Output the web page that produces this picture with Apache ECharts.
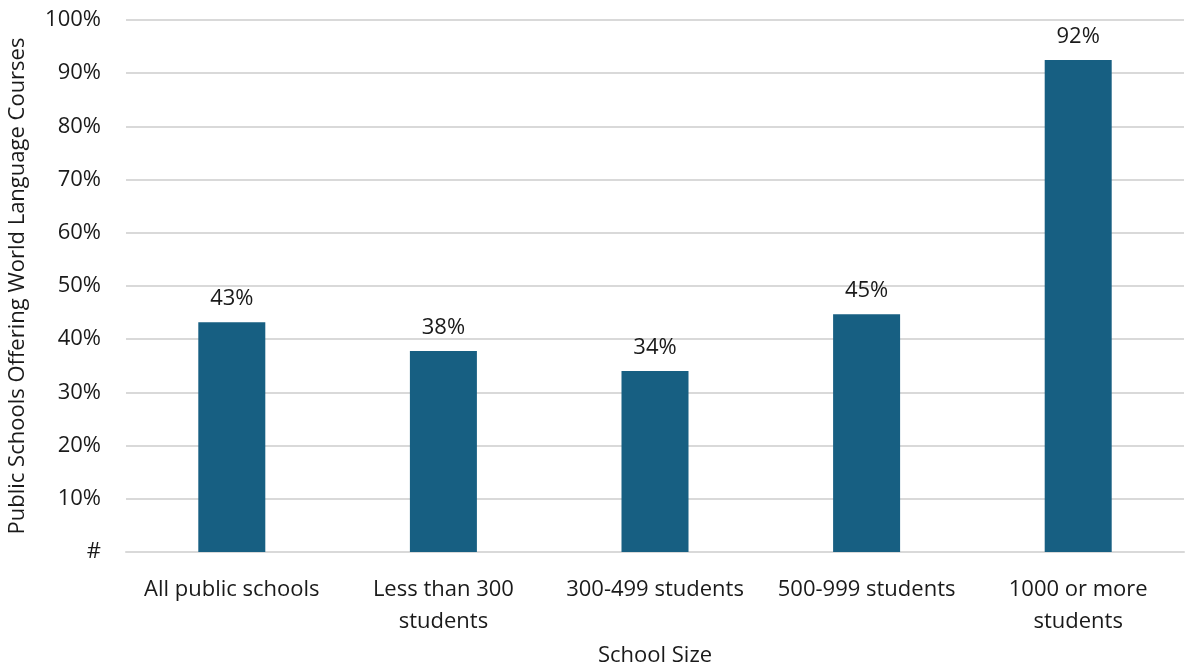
<!DOCTYPE html>
<html>
<head>
<meta charset="utf-8">
<script src="https://cdn.jsdelivr.net/npm/echarts@6/dist/echarts.min.js"></script>
<style>
  html, body { margin: 0; padding: 0; background: #fff; }
  #chart { width: 1186px; height: 671px; }
</style>
</head>
<body>
<div id="chart"></div>
<script>
var categories = ['All public schools', 'Less than 300\nstudents', '300-499 students', '500-999 students', '1000 or more\nstudents'];
var values = [43.2, 37.8, 34.0, 44.7, 92.5];
var valueLabels = ['43%', '38%', '34%', '45%', '92%'];

var font = '"Open Sans", sans-serif';
var chart = echarts.init(document.getElementById('chart'));
chart.setOption({
    animation: false,
    grid: { left: 126, right: 2, top: 20, bottom: 119, outerBoundsMode: 'none' },
    xAxis: {
        type: 'category',
        data: categories,
        name: 'School Size',
        nameLocation: 'middle',
        nameGap: 93,
        nameTextStyle: { color: '#1a1a1a', fontSize: 22, fontFamily: font },
        axisLine: { lineStyle: { color: '#d9d9d9', width: 2 } },
        axisTick: { show: false },
        axisLabel: { color: '#1a1a1a', fontSize: 22, fontFamily: font, margin: 22, lineHeight: 32, interval: 0 }
    },
    yAxis: {
        type: 'value',
        min: 0,
        max: 100,
        interval: 10,
        name: 'Public Schools Offering World Language Courses',
        nameLocation: 'middle',
        nameGap: 97,
        nameTextStyle: { color: '#1a1a1a', fontSize: 22, fontFamily: font },
        axisLine: { show: false },
        axisTick: { show: false },
        splitLine: { lineStyle: { color: '#d9d9d9', width: 2 } },
        axisLabel: {
            color: '#1a1a1a', fontSize: 22, fontFamily: font, margin: 25,
            formatter: function (v) { return v === 0 ? '#' : v + '%'; }
        }
    },
    series: [{
        type: 'bar',
        data: values,
        barWidth: 67,
        itemStyle: { color: '#175f82' },
        label: {
            show: true,
            position: 'top',
            distance: 12,
            color: '#1a1a1a',
            fontSize: 22,
            fontFamily: font,
            formatter: function (p) { return valueLabels[p.dataIndex]; }
        }
    }]
});
</script>
</body>
</html>
